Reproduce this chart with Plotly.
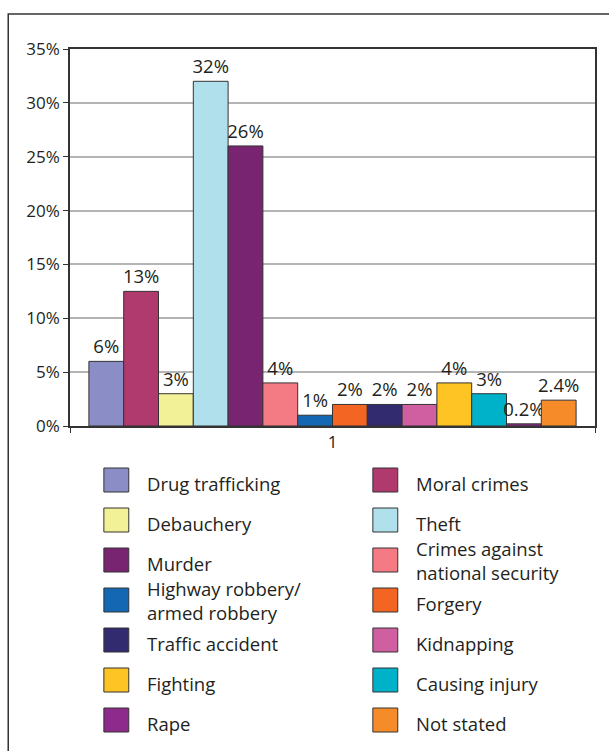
import plotly.graph_objects as go

categories = ["Drug trafficking", "Moral crimes", "Debauchery", "Theft", "Murder",
              "Crimes against\nnational security", "Highway robbery/\narmed robbery",
              "Forgery", "Traffic accident", "Kidnapping", "Fighting",
              "Causing injury", "Rape", "Not stated"]
values = [6, 12.5, 3, 32, 26, 4, 1, 2, 2, 2, 4, 3, 0.2, 2.4]
labels = ["6%", "13%", "3%", "32%", "26%", "4%", "1%", "2%", "2%", "2%",
          "4%", "3%", "0.2%", "2.4%"]
colors = ["#8B8EC6", "#B0396E", "#F3F198", "#B0E0EC", "#792470", "#F47B84",
          "#1468B3", "#F26522", "#332B70", "#CF5FA1", "#FEC423", "#00B1CA",
          "#8E2A8C", "#F68B2A"]
x_cat = ["1"]

W, H = 609, 751
L, R, T, B = 70, 12, 49, 325
PW = W - L - R
PH = H - T - B
TXT = "#231f20"
FONT = "Open Sans, Noto Sans, sans-serif"

def px(xpix):
    return (xpix - L) / PW

def py(ypix):
    return (H - B - ypix) / PH

fig = go.Figure()
for name, v, lab, c in zip(categories, values, labels, colors):
    fig.add_trace(go.Bar(
        x=x_cat, y=[v], name=name.replace("\n", " "),
        text=[lab], textposition="outside", texttemplate="%{text}",
        constraintext="none", cliponaxis=False,
        textfont=dict(size=18.5, color=TXT, family=FONT),
        marker=dict(color=c, line=dict(color="#333333", width=1)),
        showlegend=False,
    ))

shapes = []
annotations = []
# outer frame
shapes.append(dict(type="path", xref="paper", yref="paper",
                   path=f"M {px(8)} {py(760)} L {px(8)} {py(14)} L {px(620)} {py(14)}",
                   line=dict(color="#333333", width=1.5)))

# manual legend (two columns, row-major)
col_sw = [104, 374]
col_tx = [145, 415]
for i, (name, c) in enumerate(zip(categories, colors)):
    row, col = divmod(i, 2)
    cy = 480 + 40 * row
    shapes.append(dict(type="rect", xref="paper", yref="paper",
                       x0=px(col_sw[col]), x1=px(col_sw[col] + 25),
                       y0=py(cy - 12), y1=py(cy + 12),
                       fillcolor=c, line=dict(color="#333333", width=1)))
    multi = "\n" in name
    annotations.append(dict(xref="paper", yref="paper", x=px(col_tx[col]),
                            y=py(cy + (0 if multi else 3)),
                            text=name.replace("\n", "<br>"), showarrow=False,
                            xanchor="left", yanchor="middle", align="left",
                            font=dict(size=18.5, color=TXT, family=FONT)))

fig.update_layout(
    width=W, height=H,
    margin=dict(l=L, r=R, t=T, b=B),
    barmode="group", bargap=0.072, bargroupgap=0,
    plot_bgcolor="white", paper_bgcolor="white",
    font=dict(family=FONT, size=16, color=TXT),
    shapes=shapes, annotations=annotations,
    xaxis=dict(type="category", showline=True, linecolor="#333333", linewidth=1.5,
               mirror=True, ticks="outside", tickson="boundaries", ticklen=5,
               tickcolor="#333333", tickfont=dict(size=17, color=TXT)),
    yaxis=dict(range=[0, 35], dtick=5, ticksuffix="%", showline=True,
               linecolor="#333333", linewidth=1.5, mirror=True,
               ticks="outside", ticklen=5, tickcolor="#333333",
               showgrid=True, gridcolor="#b4b4b4", gridwidth=1.5,
               zeroline=False, tickfont=dict(size=17, color=TXT)),
)

fig.write_html("out.html")
